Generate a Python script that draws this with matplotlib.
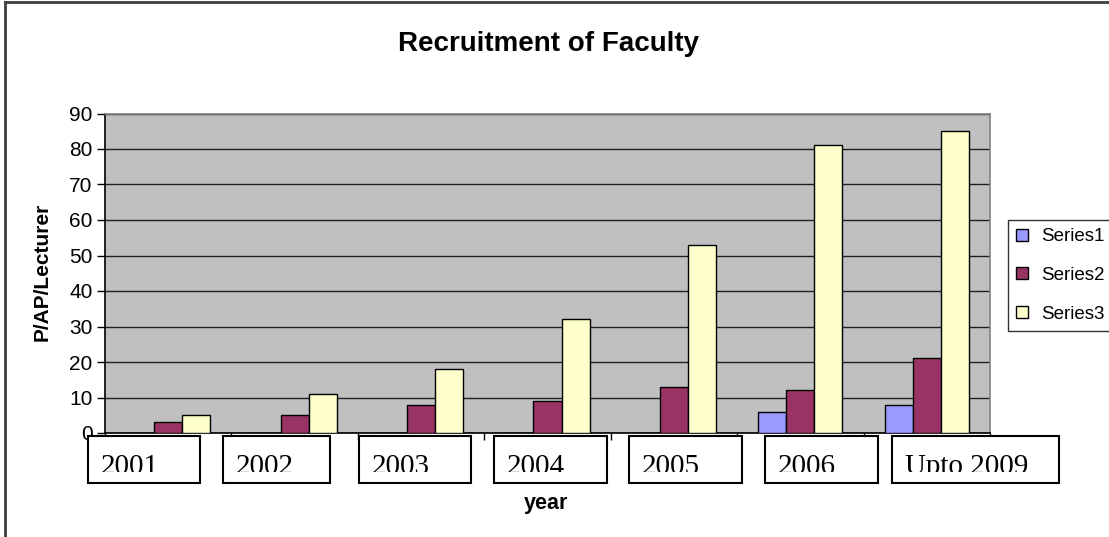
import matplotlib
matplotlib.use('Agg')
import matplotlib.pyplot as plt
import numpy as np
from matplotlib.patches import Rectangle, Patch
from matplotlib.lines import Line2D
from matplotlib.transforms import Bbox

# ---------------- data ----------------
categories = ['2001', '2002', '2003', '2004', '2005', '2006', 'Upto 2009']
series1 = [0, 0, 0, 0, 0, 6, 8]
series2 = [3, 5, 8, 9, 13, 12, 21]
series3 = [5, 11, 18, 32, 53, 81, 85]
series_names = ['Series1', 'Series2', 'Series3']
yticks = list(range(0, 91, 10))

# ---------------- layout ----------------
W, H, DPI = 1109, 537, 100
colors = ['#9999FF', '#993366', '#FFFFCC']
# label-box horizontal extents in pixels (text boxes overlaid on the axis)
box_x = [(88, 200), (223, 330), (359, 471), (494, 607), (629, 742), (765, 878), (892, 1059)]
box_y = (436, 483)

fig = plt.figure(figsize=(W / DPI, H / DPI), dpi=DPI)
fig.patch.set_facecolor('white')


def frac(x0, y0, x1, y1):
    return [x0 / W, 1 - y1 / H, (x1 - x0) / W, (y1 - y0) / H]


ax = fig.add_axes(frac(105, 113.5, 990, 433))
ax.set_facecolor('#C0C0C0')

x = np.arange(len(categories))
bw = 0.222
for k, (vals, c, name) in enumerate(zip([series1, series2, series3], colors, series_names)):
    ax.bar(x + (k - 1) * bw, vals, width=bw, color=c, edgecolor='black',
           linewidth=1.0, label=name, zorder=3)

ax.set_xlim(-0.5, len(categories) - 0.5)
ax.set_ylim(0, 90)
ax.set_yticks(yticks)
ax.set_yticklabels([str(t) for t in yticks], fontsize=15, family='Liberation Sans')
ax.yaxis.grid(True, color='#202020', linewidth=1.0, zorder=1)
ax.set_axisbelow(True)
ax.tick_params(axis='y', direction='out', length=6, width=1, pad=3, colors='black')
ax.set_xticks(np.arange(len(categories) + 1) - 0.5)
ax.set_xticklabels([])
ax.tick_params(axis='x', direction='out', length=5, width=1)
for s in ['left', 'bottom']:
    ax.spines[s].set_color('black')
    ax.spines[s].set_linewidth(1.2)
for s in ['top', 'right']:
    ax.spines[s].set_color('#808080')
    ax.spines[s].set_linewidth(1.2)

# axis titles
fig.text(42 / W, 1 - 272 / H, 'P/AP/Lecturer', rotation=90, fontsize=15,
         fontweight='bold', family='Liberation Sans', ha='center', va='center')
fig.text(546 / W, 1 - 503 / H, 'year', fontsize=15.5, fontweight='bold',
         family='Liberation Sans', ha='center', va='center')
fig.text(549 / W, 1 - 51 / H, 'Recruitment of Faculty', fontsize=20,
         fontweight='bold', family='Liberation Sans', ha='center', va='baseline')

# category label boxes with clipped serif text
for (x0, x1), lab in zip(box_x, categories):
    y0, y1 = box_y
    fig.add_artist(Rectangle((x0 / W, 1 - y1 / H), (x1 - x0) / W, (y1 - y0) / H,
                             transform=fig.transFigure, facecolor='white',
                             edgecolor='black', linewidth=1.5, zorder=5))
    t = fig.text((x0 + 13) / W, 1 - 473.5 / H, lab, fontsize=21,
                 family='Liberation Serif', ha='left', va='baseline', zorder=6)
    t.set_clip_on(True)
    t.set_clip_box(Bbox.from_extents(x0, H - 471.5, x1, H - y0))

# legend
handles = [Patch(facecolor=c, edgecolor='black', linewidth=1.0) for c in colors]
leg = fig.legend(handles, series_names, loc='upper left',
                 bbox_to_anchor=(1008 / W, 1 - 220 / H), bbox_transform=fig.transFigure,
                 borderaxespad=0, frameon=True, fancybox=False, edgecolor='black',
                 prop={'family': 'Liberation Sans', 'size': 13.5},
                 handlelength=0.6, handleheight=0.6, handletextpad=0.7,
                 labelspacing=1.15, borderpad=0.45)
leg.get_frame().set_linewidth(1.0)

# outer chart border (top & left visible)
fig.add_artist(Line2D([5 / W, 1], [1 - 2 / H, 1 - 2 / H], transform=fig.transFigure,
                      color='#404040', linewidth=2))
fig.add_artist(Line2D([5 / W, 5 / W], [0, 1 - 2 / H], transform=fig.transFigure,
                      color='#404040', linewidth=2))

fig.savefig('out.png', dpi=DPI)
